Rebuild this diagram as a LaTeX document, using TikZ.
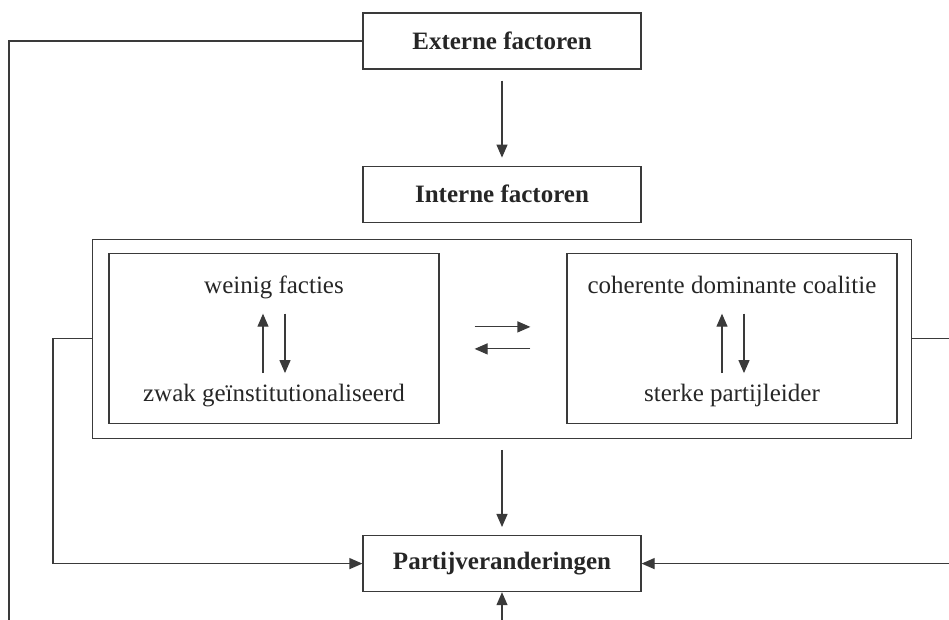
\documentclass[tikz,border=0pt]{standalone}
\usepackage{fontspec}
\setmainfont{Liberation Serif}
\usetikzlibrary{positioning,arrows.meta}
\definecolor{linegray}{HTML}{3A3A3A}
\definecolor{inkgray}{HTML}{262626}
\tikzstyle{factor}=[rectangle, draw=linegray, line width=0.6pt, text=inkgray,
        font=\fontsize{12.5}{15}\selectfont\bfseries, minimum width=139pt, minimum height=28pt, inner sep=0pt]
\tikzstyle{frame}=[rectangle, draw=linegray, line width=0.6pt, inner sep=0pt]
\tikzstyle{kenmerk}=[text=inkgray, font=\fontsize{12.5}{15}\selectfont, anchor=base,
        inner sep=0pt, text height=8.5pt, text depth=2.7pt]
\tikzstyle{line}=[draw=linegray, line width=0.6pt]
\tikzstyle{arrow}=[line, -{Triangle[length=6.5pt,width=5.5pt]}]

\begin{document}
\begin{tikzpicture}[x=0.5pt, y=-0.5pt]
        \clip (0,0) rectangle (949,620);
        \node (Externe) [factor] at (502,41) {Externe factoren};
        \node (Interne) [factor, below=48pt of Externe] {Interne factoren};
        \node (Cluster) [frame, minimum width=409.5pt, minimum height=99.5pt, below=8pt of Interne] {};
        \node (Links) [frame, minimum width=165pt, minimum height=85pt, xshift=-114pt] at (Cluster.center) {};
        \node (Rechts) [frame, minimum width=165pt, minimum height=85pt, xshift=115pt] at (Cluster.center) {};
        \node (Veranderingen) [factor, below=48pt of Cluster] {Partijveranderingen};
        % teksten in de binnenste kaders
        \node (Facties) [kenmerk] at ([yshift=-20pt]Links.north) {weinig facties};
        \node (Zwak) [kenmerk] at ([yshift=11.5pt]Links.south) {zwak geïnstitutionaliseerd};
        \node (Coalitie) [kenmerk] at ([yshift=-20pt]Rechts.north) {coherente dominante coalitie};
        \node (Leider) [kenmerk] at ([yshift=11.5pt]Rechts.south) {sterke partijleider};
        \coordinate (LusLinks) at (9,680);
        \coordinate (BochtLinks) at ([xshift=-19.5pt]Cluster.west);
        \coordinate (BochtRechts) at ([xshift=30pt]Cluster.east);

        \draw[arrow, shorten <=5.5pt, shorten >=4pt] (Externe) -- (Interne);
        \draw[arrow, shorten <=5.5pt, shorten >=4pt] (Cluster) -- (Veranderingen);
        \draw[arrow, shorten <=5.5pt, shorten >=7.3pt] ([xshift=-5.5pt]Zwak.north) -- ([xshift=-5.5pt]Facties.south);
        \draw[arrow, shorten <=7.3pt, shorten >=5.5pt] ([xshift=5.5pt]Facties.south) -- ([xshift=5.5pt]Zwak.north);
        \draw[arrow, shorten <=5.5pt, shorten >=7.3pt] ([xshift=-5pt]Leider.north) -- ([xshift=-5pt]Coalitie.south);
        \draw[arrow, shorten <=7.3pt, shorten >=5.5pt] ([xshift=6pt]Coalitie.south) -- ([xshift=6pt]Leider.north);
        \draw[arrow, shorten <=17.5pt, shorten >=18pt] ([yshift=6pt]Links.east) -- ([yshift=6pt]Rechts.west);
        \draw[arrow, shorten <=18pt, shorten >=17.5pt] ([yshift=-5pt]Rechts.west) -- ([yshift=-5pt]Links.east);
        \draw[arrow] (Externe.west) -| (LusLinks) -| (Veranderingen.south);
        \draw[arrow] (Cluster.west) -- (BochtLinks) |- (Veranderingen.west);
        \draw[arrow] (Cluster.east) -- (BochtRechts) |- (Veranderingen.east);
\end{tikzpicture}
\end{document}
